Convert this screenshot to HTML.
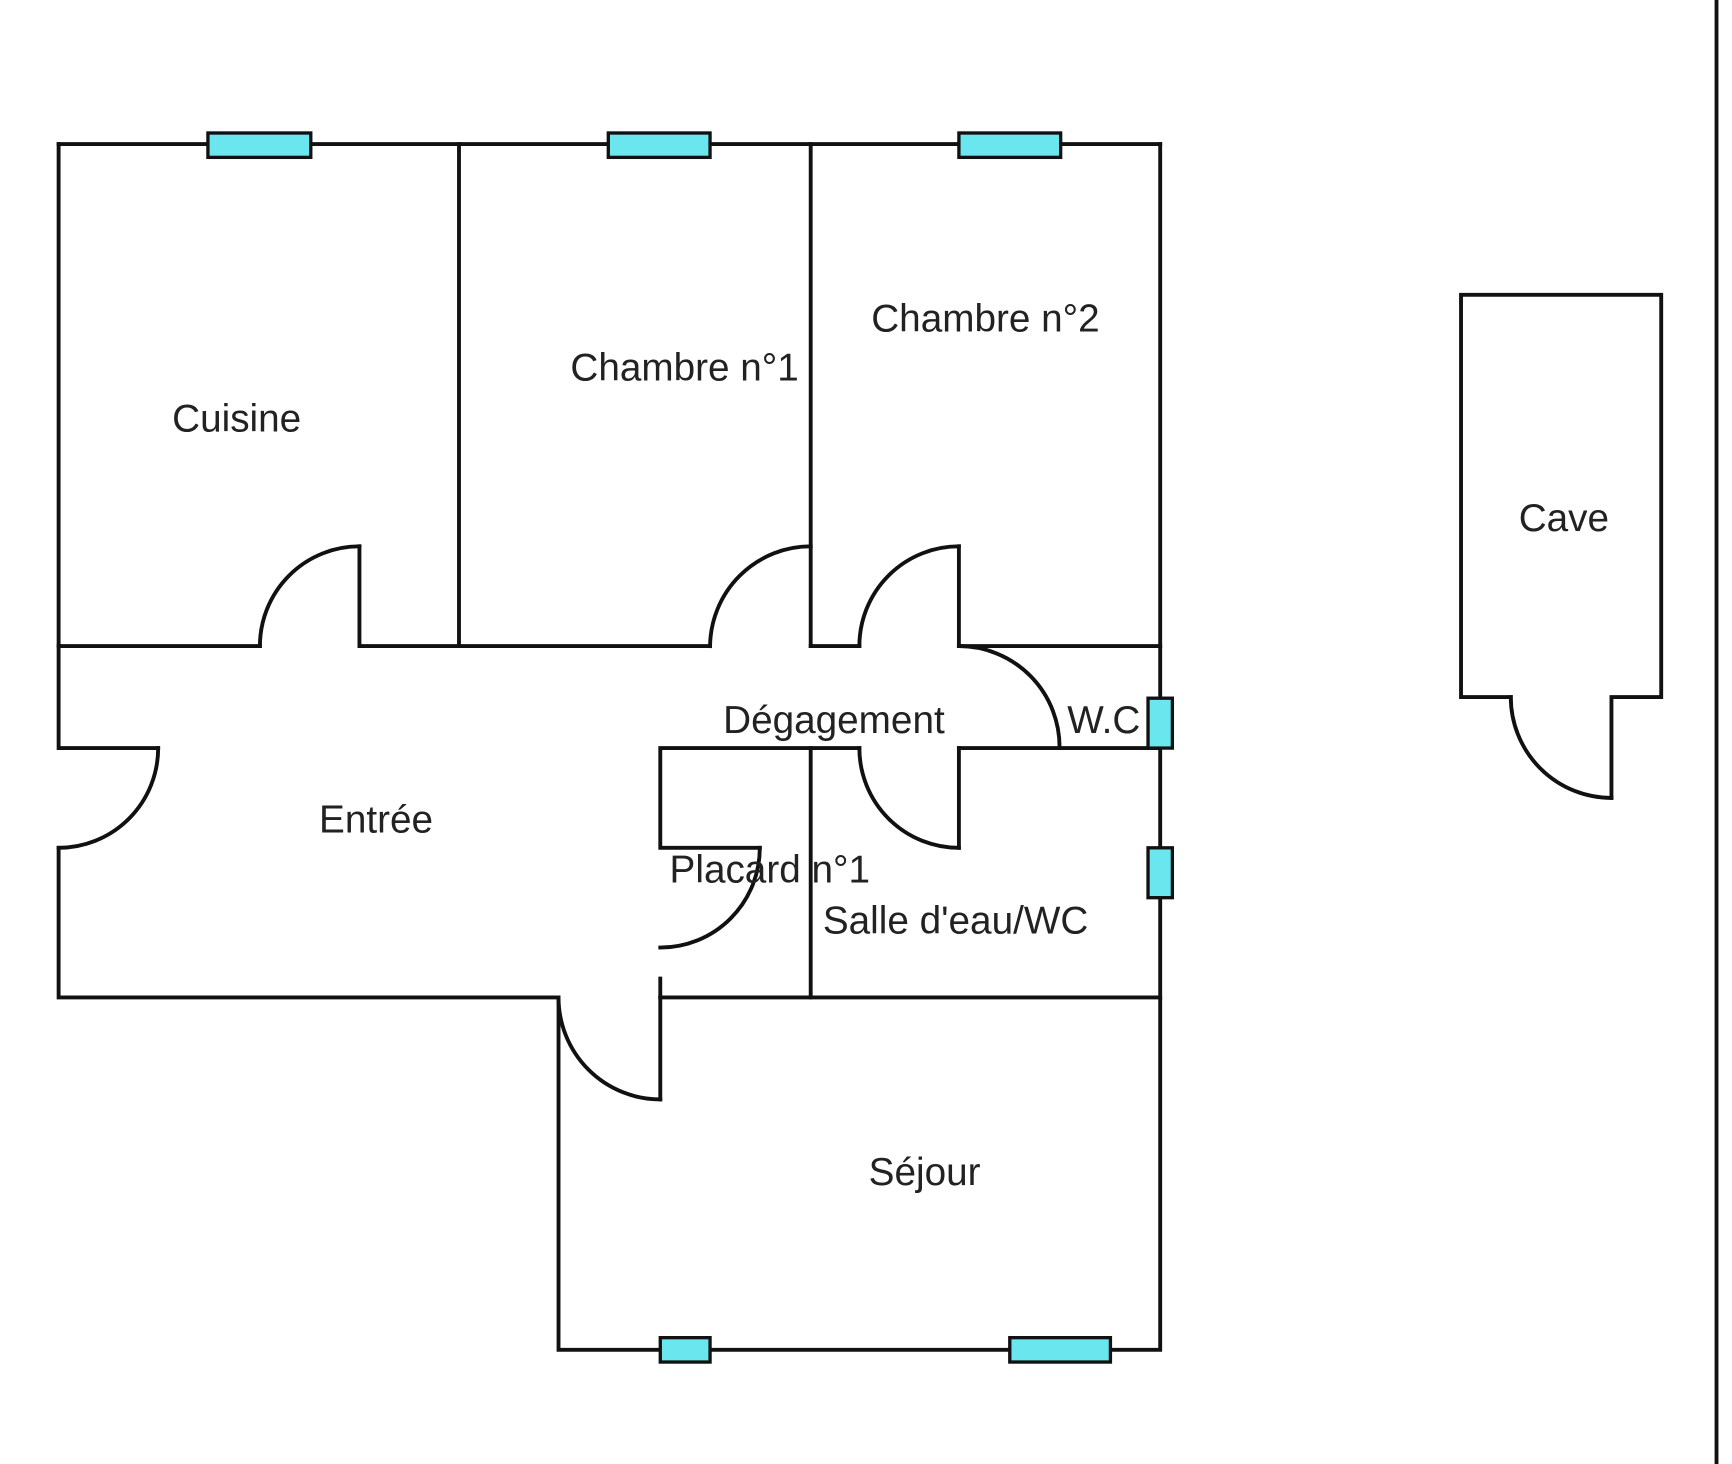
<!DOCTYPE html>
<html><head><style>html,body{margin:0;padding:0;background:#fff;}svg{display:block}</style></head>
<body>
<svg width="1732" height="1464" viewBox="0 0 1566 1321" preserveAspectRatio="none" xmlns="http://www.w3.org/2000/svg">
<g fill="none" stroke="#111" stroke-width="3.5" stroke-linecap="square">
<line x1="1552" y1="0" x2="1552" y2="1321"/>
<line x1="53" y1="130" x2="1049" y2="130"/>
<polyline points="53,130 53,583 235,583"/>
<polyline points="53,583 53,675 143,675"/>
<path d="M143,675 A90,90 0 0 1 53,765"/>
<polyline points="53,765 53,900 505,900 505,1218 1049,1218 1049,130"/>
<line x1="415" y1="130" x2="415" y2="583"/>
<polyline points="325,583 325,493"/>
<path d="M325,493 A90,90 0 0 0 235,583"/>
<line x1="325" y1="583" x2="642" y2="583"/>
<line x1="733" y1="130" x2="733" y2="583"/>
<path d="M733,493 A91,91 0 0 0 642,583"/>
<line x1="733" y1="583" x2="777" y2="583"/>
<line x1="867" y1="493" x2="867" y2="583"/>
<path d="M867,493 A90,90 0 0 0 777,583"/>
<line x1="867" y1="583" x2="1049" y2="583"/>
<path d="M867,583 A91,91 0 0 1 958,675"/>
<line x1="867" y1="675" x2="1049" y2="675"/>
<line x1="867" y1="675" x2="867" y2="765"/>
<path d="M777,675 A90,90 0 0 0 867,765"/>
<polyline points="777,675 597,675 597,765 687,765"/>
<path d="M687,765 A90,90 0 0 1 597,855"/>
<line x1="597" y1="883" x2="597" y2="900"/>
<line x1="733" y1="675" x2="733" y2="900"/>
<line x1="597" y1="900" x2="1049" y2="900"/>
<line x1="597" y1="900" x2="597" y2="992"/>
<path d="M505,900 A92,92 0 0 0 597,992"/>
<polyline points="1366,629 1321,629 1321,266 1502,266 1502,629 1457,629 1457,720"/>
<path d="M1366,629 A91,91 0 0 0 1457,720"/>
</g>
<g fill="#6ae6ef" stroke="#111" stroke-width="3">
<rect x="188" y="120" width="93" height="22"/>
<rect x="550" y="120" width="92" height="22"/>
<rect x="867" y="120" width="92" height="22"/>
<rect x="597" y="1207" width="45" height="22"/>
<rect x="913" y="1207" width="91" height="22"/>
<rect x="1038" y="630" width="22" height="45"/>
<rect x="1038" y="765" width="22" height="45"/>
</g>
<g font-family="Liberation Sans, sans-serif" font-size="35" fill="#222" text-anchor="middle" dominant-baseline="central">
<text x="214" y="378">Cuisine</text>
<text x="619" y="332">Chambre n°1</text>
<text x="891" y="288">Chambre n°2</text>
<text x="1414" y="468">Cave</text>
<text x="754" y="650">Dégagement</text>
<text x="998" y="650">W.C</text>
<text x="340" y="740">Entrée</text>
<text x="696" y="785">Placard n°1</text>
<text x="864" y="831">Salle d'eau/WC</text>
<text x="836" y="1058">Séjour</text>
</g>
</svg>
</body></html>
